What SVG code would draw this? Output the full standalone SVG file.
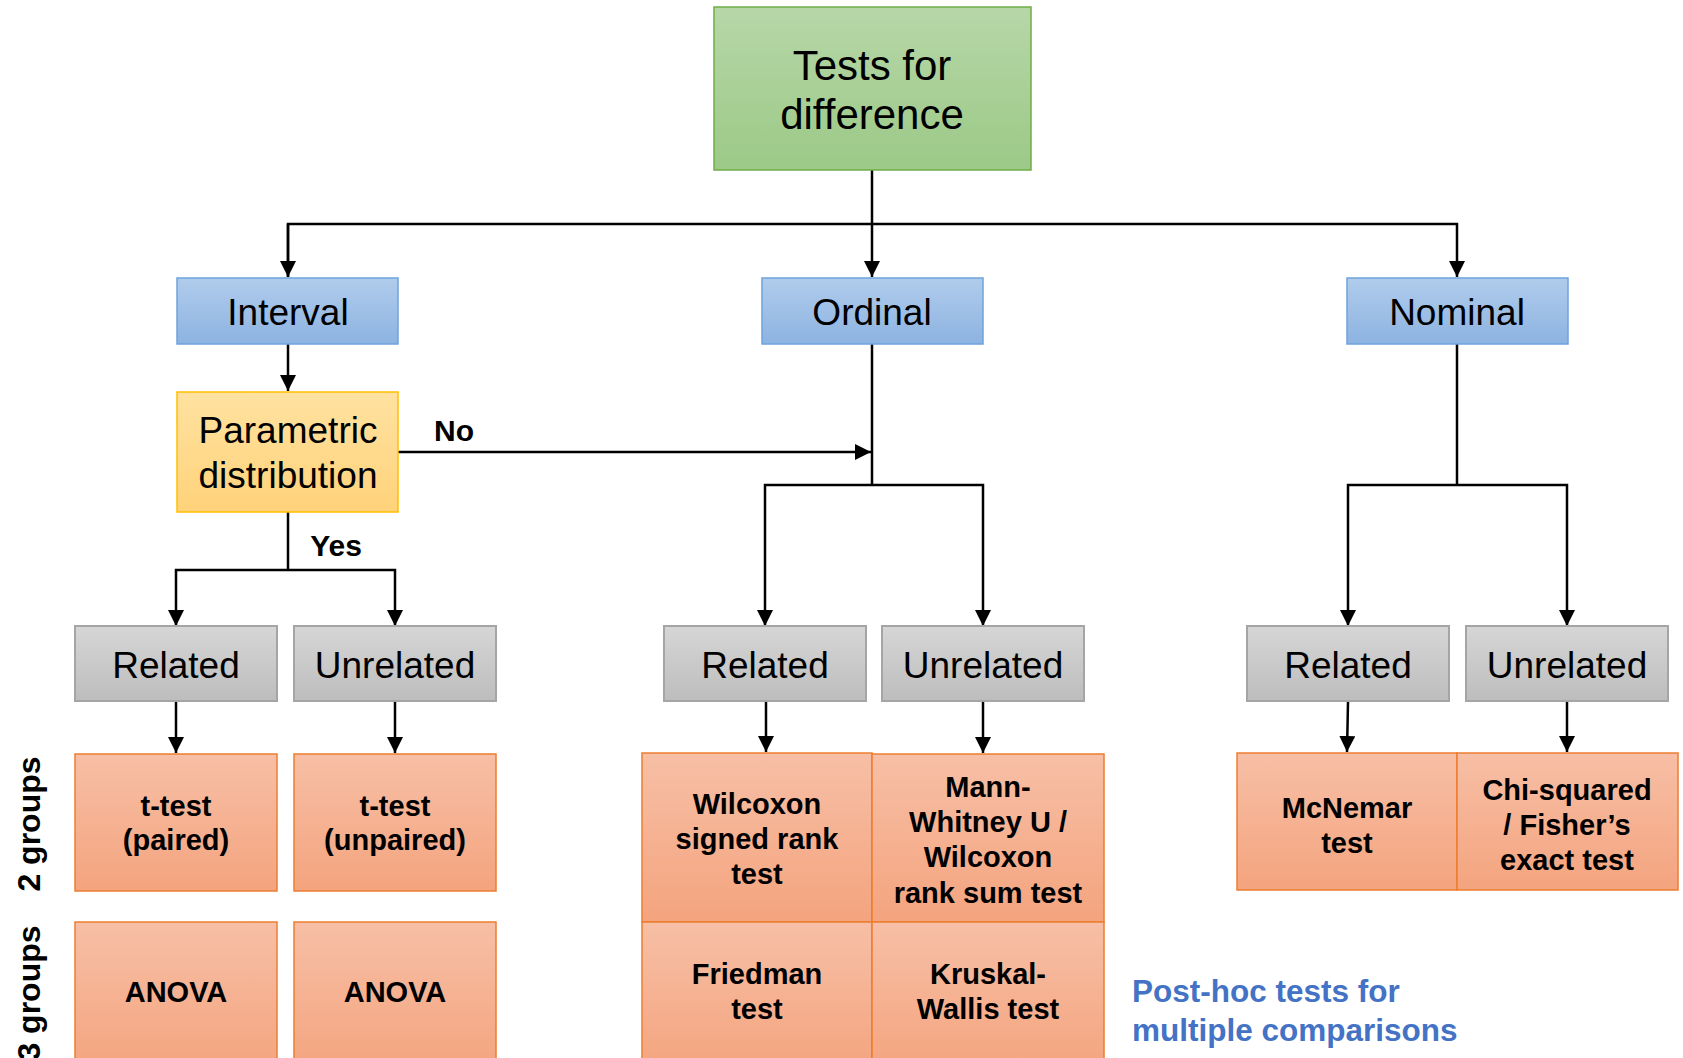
<svg xmlns="http://www.w3.org/2000/svg" width="1683" height="1058" viewBox="0 0 1683 1058">
<style>
.reg{font-family:"Liberation Sans",Arial,sans-serif;fill:#000;text-anchor:middle}
.bold{font-family:"Liberation Sans",Arial,sans-serif;font-weight:bold;fill:#000;text-anchor:middle}
.con{fill:none;stroke:#000;stroke-width:2.5}
.green{fill:url(#gGreen);stroke:#70AD47;stroke-width:1.5}
.blue{fill:url(#gBlue);stroke:#6FA3DC;stroke-width:1.5}
.yellow{fill:url(#gYellow);stroke:#FFC000;stroke-width:1.5}
.gray{fill:url(#gGray);stroke:#A5A5A5;stroke-width:2}
.orange{fill:url(#gOrange);stroke:#ED7D31;stroke-width:1.5}
</style>
<defs>
<linearGradient id="gGreen" x1="0" y1="0" x2="0" y2="1"><stop offset="0" stop-color="#B7D7A8"/><stop offset="1" stop-color="#9CC987"/></linearGradient>
<linearGradient id="gBlue" x1="0" y1="0" x2="0" y2="1"><stop offset="0" stop-color="#B0CCEB"/><stop offset="1" stop-color="#8DB3E2"/></linearGradient>
<linearGradient id="gYellow" x1="0" y1="0" x2="0" y2="1"><stop offset="0" stop-color="#FFE2A0"/><stop offset="1" stop-color="#FFD27A"/></linearGradient>
<linearGradient id="gGray" x1="0" y1="0" x2="0" y2="1"><stop offset="0" stop-color="#D6D6D6"/><stop offset="1" stop-color="#BDBDBD"/></linearGradient>
<linearGradient id="gOrange" x1="0" y1="0" x2="0" y2="1"><stop offset="0" stop-color="#F7BFA6"/><stop offset="1" stop-color="#F4A47E"/></linearGradient>
<marker id="arr" markerUnits="userSpaceOnUse" markerWidth="16" markerHeight="16" viewBox="0 0 16 16" refX="16" refY="8" orient="auto">
<path d="M0,0 L16,8 L0,16 Z" fill="#000"/>
</marker>
</defs>

<g id="connectors">
<path class="con" d="M872,170 L872,277" marker-end="url(#arr)"/>
<path class="con" d="M288,277 L288,224 L1457,224 L1457,277" marker-end="url(#arr)"/>
<path class="con" d="M288,224 L288,277" marker-end="url(#arr)"/>
<path class="con" d="M288,344 L288,391" marker-end="url(#arr)"/>
<path class="con" d="M398,452 L871,452" marker-end="url(#arr)"/>
<path class="con" d="M288,512 L288,570"/>
<path class="con" d="M288,570 L176,570 L176,626" marker-end="url(#arr)"/>
<path class="con" d="M288,570 L395,570 L395,626" marker-end="url(#arr)"/>
<path class="con" d="M872,344 L872,485"/>
<path class="con" d="M872,485 L765,485 L765,626" marker-end="url(#arr)"/>
<path class="con" d="M872,485 L983,485 L983,626" marker-end="url(#arr)"/>
<path class="con" d="M1457,344 L1457,485"/>
<path class="con" d="M1457,485 L1348,485 L1348,626" marker-end="url(#arr)"/>
<path class="con" d="M1457,485 L1567,485 L1567,626" marker-end="url(#arr)"/>
<path class="con" d="M176,701 L176,753" marker-end="url(#arr)"/>
<path class="con" d="M395,701 L395,753" marker-end="url(#arr)"/>
<path class="con" d="M766,702 L766,752" marker-end="url(#arr)"/>
<path class="con" d="M983,702 L983,753" marker-end="url(#arr)"/>
<path class="con" d="M1348,702 L1347,752" marker-end="url(#arr)"/>
<path class="con" d="M1567,702 L1567,752" marker-end="url(#arr)"/>
<text class="bold" x="454" y="441" font-size="30">No</text>
<text class="bold" x="336" y="556" font-size="30">Yes</text>
</g>

<g id="root">
<rect class="green" x="714" y="7" width="317" height="163"/>
<text class="reg" x="872" y="80" font-size="42">Tests for</text>
<text class="reg" x="872" y="129" font-size="42">difference</text>
</g>

<g id="interval">
<rect class="blue" x="177" y="278" width="221" height="66"/>
<text class="reg" x="288" y="325" font-size="37">Interval</text>
</g>
<g id="ordinal">
<rect class="blue" x="762" y="278" width="221" height="66"/>
<text class="reg" x="872" y="325" font-size="37">Ordinal</text>
</g>
<g id="nominal">
<rect class="blue" x="1347" y="278" width="221" height="66"/>
<text class="reg" x="1457" y="325" font-size="37">Nominal</text>
</g>

<g id="parametric">
<rect class="yellow" x="177" y="392" width="221" height="120"/>
<text class="reg" x="288" y="443" font-size="37">Parametric</text>
<text class="reg" x="288" y="488" font-size="37">distribution</text>
</g>

<g id="int-related">
<rect class="gray" x="75" y="626" width="202" height="75"/>
<text class="reg" x="176" y="678" font-size="37">Related</text>
</g>
<g id="int-unrelated">
<rect class="gray" x="294" y="626" width="202" height="75"/>
<text class="reg" x="395" y="678" font-size="37">Unrelated</text>
</g>
<g id="ord-related">
<rect class="gray" x="664" y="626" width="202" height="75"/>
<text class="reg" x="765" y="678" font-size="37">Related</text>
</g>
<g id="ord-unrelated">
<rect class="gray" x="882" y="626" width="202" height="75"/>
<text class="reg" x="983" y="678" font-size="37">Unrelated</text>
</g>
<g id="nom-related">
<rect class="gray" x="1247" y="626" width="202" height="75"/>
<text class="reg" x="1348" y="678" font-size="37">Related</text>
</g>
<g id="nom-unrelated">
<rect class="gray" x="1466" y="626" width="202" height="75"/>
<text class="reg" x="1567" y="678" font-size="37">Unrelated</text>
</g>

<g id="ttest-paired">
<rect class="orange" x="75" y="754" width="202" height="137"/>
<text class="bold" x="176" y="816" font-size="29">t-test</text>
<text class="bold" x="176" y="850" font-size="29">(paired)</text>
</g>
<g id="ttest-unpaired">
<rect class="orange" x="294" y="754" width="202" height="137"/>
<text class="bold" x="395" y="816" font-size="29">t-test</text>
<text class="bold" x="395" y="850" font-size="29">(unpaired)</text>
</g>
<g id="anova-related">
<rect class="orange" x="75" y="922" width="202" height="150"/>
<text class="bold" x="176" y="1002" font-size="29">ANOVA</text>
</g>
<g id="anova-unrelated">
<rect class="orange" x="294" y="922" width="202" height="150"/>
<text class="bold" x="395" y="1002" font-size="29">ANOVA</text>
</g>

<g id="wilcoxon-signed">
<rect class="orange" x="642" y="753" width="230" height="169"/>
<text class="bold" x="757" y="814" font-size="29">Wilcoxon</text>
<text class="bold" x="757" y="849" font-size="29">signed rank</text>
<text class="bold" x="757" y="884" font-size="29">test</text>
</g>
<g id="mann-whitney">
<rect class="orange" x="872" y="754" width="232" height="168"/>
<text class="bold" x="988" y="797" font-size="29">Mann-</text>
<text class="bold" x="988" y="832" font-size="29">Whitney U /</text>
<text class="bold" x="988" y="867" font-size="29">Wilcoxon</text>
<text class="bold" x="988" y="903" font-size="29">rank sum test</text>
</g>
<g id="friedman">
<rect class="orange" x="642" y="922" width="230" height="150"/>
<text class="bold" x="757" y="984" font-size="29">Friedman</text>
<text class="bold" x="757" y="1019" font-size="29">test</text>
</g>
<g id="kruskal">
<rect class="orange" x="872" y="922" width="232" height="150"/>
<text class="bold" x="988" y="984" font-size="29">Kruskal-</text>
<text class="bold" x="988" y="1019" font-size="29">Wallis test</text>
</g>

<g id="mcnemar">
<rect class="orange" x="1237" y="753" width="220" height="137"/>
<text class="bold" x="1347" y="818" font-size="29">McNemar</text>
<text class="bold" x="1347" y="853" font-size="29">test</text>
</g>
<g id="chi-squared">
<rect class="orange" x="1457" y="753" width="221" height="137"/>
<text class="bold" x="1567" y="800" font-size="29">Chi-squared</text>
<text class="bold" x="1567" y="835" font-size="29">/ Fisher’s</text>
<text class="bold" x="1567" y="870" font-size="29">exact test</text>
</g>

<g id="labels">
<text class="bold" font-size="32" transform="translate(40,824) rotate(-90)">2 groups</text>
<text class="bold" font-size="32" transform="translate(40,993) rotate(-90)">3 groups</text>
<text font-family="'Liberation Sans',Arial,sans-serif" font-weight="bold" font-size="31.5" fill="#4472C4" x="1132" y="1002">Post-hoc tests for</text>
<text font-family="'Liberation Sans',Arial,sans-serif" font-weight="bold" font-size="31.5" fill="#4472C4" x="1132" y="1041">multiple comparisons</text>
</g>
</svg>
